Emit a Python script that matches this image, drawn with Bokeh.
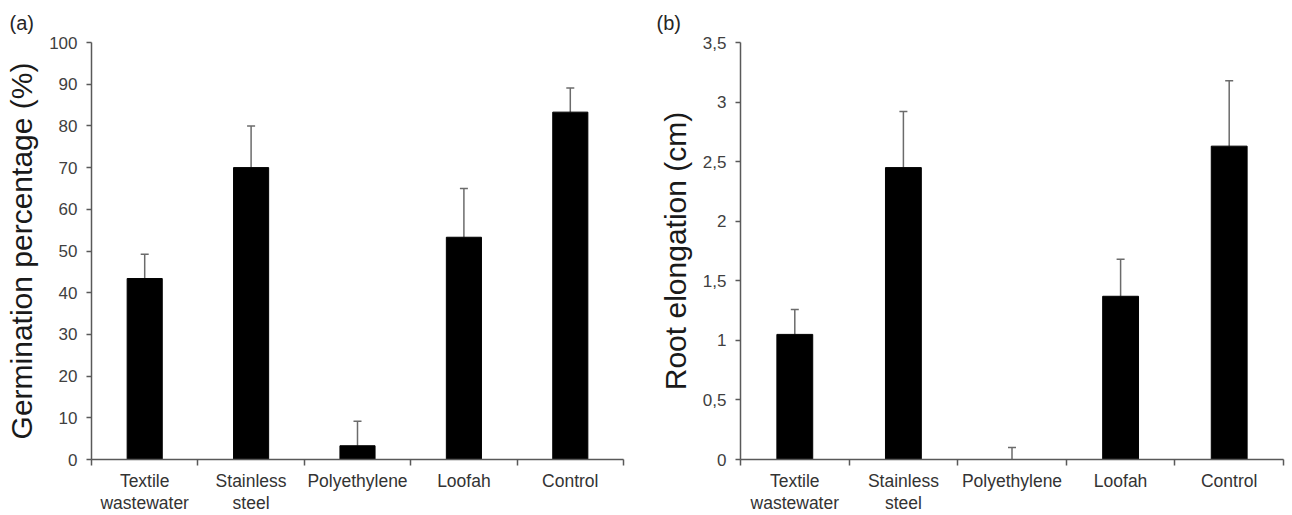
from bokeh.plotting import figure
from bokeh.layouts import row
from bokeh.models import ColumnDataSource, Range1d, FixedTicker, Whisker, TeeHead
from bokeh.embed import file_html
from bokeh.resources import INLINE

# ---- data ----
categories = ["Textile\nwastewater", "Stainless\nsteel", "Polyethylene", "Loofah", "Control"]
germination = [43.4, 70.0, 3.3, 53.3, 83.3]
germination_err = [5.8, 10.0, 5.9, 11.7, 5.8]
root = [1.05, 2.45, 0.0, 1.37, 2.63]
root_err = [0.21, 0.47, 0.10, 0.31, 0.55]
germ_ticks = [0, 10, 20, 30, 40, 50, 60, 70, 80, 90, 100]
root_ticks = [0, 0.5, 1, 1.5, 2, 2.5, 3, 3.5]
root_tick_labels = ["0", "0,5", "1", "1,5", "2", "2,5", "3", "3,5"]

FONT = "Liberation Sans"
AX = "#595959"


def panel(values, errs, ymax, yticks, ylabels, ylabel, tag, width, bl, br, toff):
    xs = [i + 0.5 for i in range(len(categories))]
    src = ColumnDataSource(dict(
        x=xs, top=values, upper=[v + e for v, e in zip(values, errs)], lower=values))
    p = figure(width=width, height=515, output_backend="svg", toolbar_location=None,
               x_range=Range1d(0, len(categories)), y_range=Range1d(0, ymax),
               min_border_left=bl, min_border_right=br, min_border_top=41, min_border_bottom=56)
    p.outline_line_color = None
    p.xgrid.visible = False
    p.ygrid.visible = False
    p.vbar(x="x", top="top", width=0.33, source=src, fill_color="black", line_color="black")
    w = Whisker(source=src, base="x", upper="upper", lower="lower", line_color="#6b6b6b",
                line_width=1.5, lower_head=None,
                upper_head=TeeHead(size=8, line_color="#6b6b6b", line_width=1.5))
    p.add_layout(w)

    xa = p.xaxis[0]
    xa.ticker = FixedTicker(ticks=xs, minor_ticks=list(range(len(categories) + 1)))
    xa.major_label_overrides = {x: c for x, c in zip(xs, categories)}
    xa.major_tick_out = 0
    xa.major_tick_in = 0
    xa.minor_tick_out = 6
    xa.minor_tick_in = 0
    xa.axis_line_color = AX
    xa.axis_line_width = 1.5
    xa.minor_tick_line_color = AX
    xa.minor_tick_line_width = 1.5
    xa.major_label_text_font = FONT
    xa.major_label_text_font_size = "17.5px"
    xa.major_label_text_line_height = 1.1
    xa.major_label_text_color = "#333333"
    xa.major_label_standoff = 5

    ya = p.yaxis[0]
    ya.ticker = FixedTicker(ticks=yticks, minor_ticks=[])
    ya.major_label_overrides = {t: l for t, l in zip(yticks, ylabels)}
    ya.major_tick_out = 5
    ya.major_tick_in = 0
    ya.axis_line_color = AX
    ya.axis_line_width = 1.5
    ya.major_tick_line_color = AX
    ya.major_tick_line_width = 1.5
    ya.major_label_text_font = FONT
    ya.major_label_text_font_size = "17px"
    ya.major_label_text_color = "#404040"
    ya.major_label_standoff = 9
    ya.axis_label = ylabel
    ya.axis_label_text_font = FONT
    ya.axis_label_text_font_size = "30px"
    ya.axis_label_text_font_style = "normal"
    ya.axis_label_text_color = "#1a1a1a"
    ya.axis_label_standoff = 8

    p.title.text = tag
    p.title.text_font = FONT
    p.title.text_font_size = "20px"
    p.title.text_font_style = "normal"
    p.title.text_color = "#262626"
    p.title.align = "left"
    p.title.offset = toff
    p.title.standoff = 18
    return p


pa = panel(germination, germination_err, 100, germ_ticks, [str(t) for t in germ_ticks],
           "Germination percentage (%)", "(a)", 650, 91, 27, -82)
pb = panel(root, root_err, 3.5, root_ticks, root_tick_labels,
           "Root elongation (cm)", "(b)", 642, 90, 9, -84)

layout = row(pa, pb)
open("out.html", "w").write(file_html(layout, INLINE))
